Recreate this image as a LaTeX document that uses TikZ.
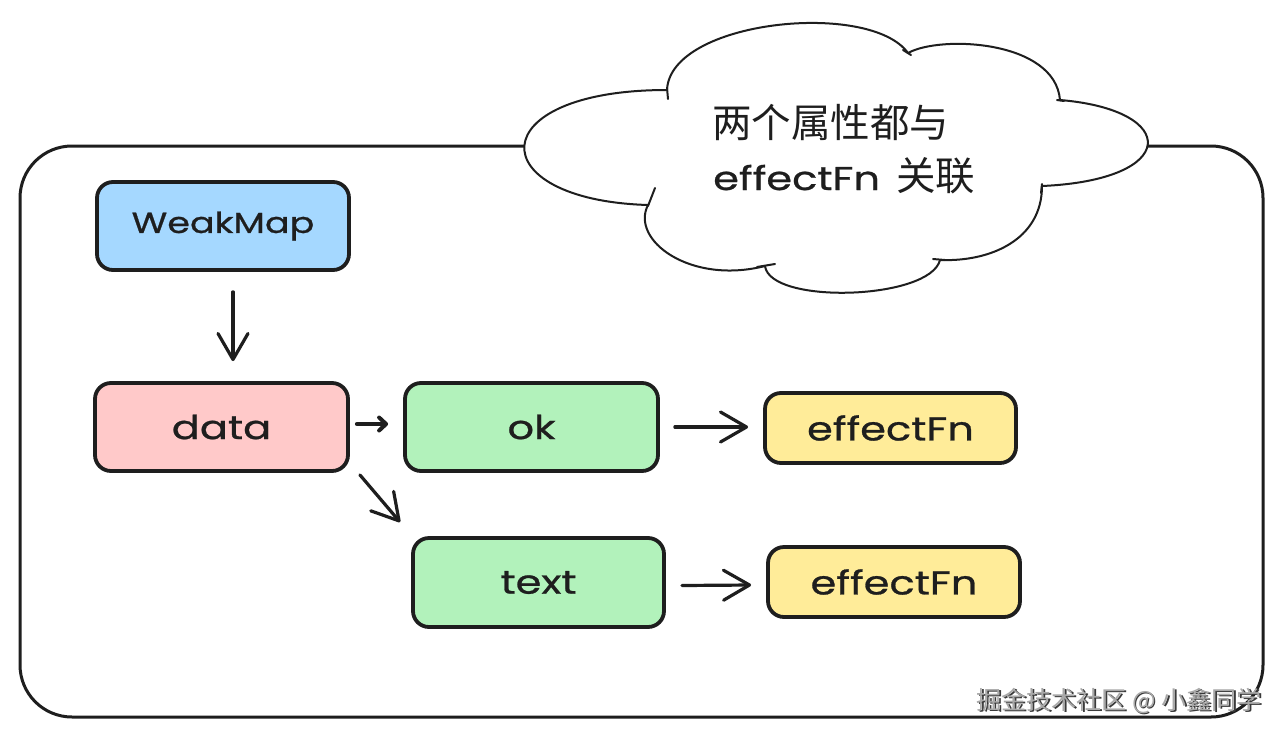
\documentclass[tikz,border=0pt]{standalone}
\usepackage{fontspec}
\newfontfamily\hand{Poppins}[FakeStretch=1.26,FakeBold=0.8]
\newfontfamily\cjk{Noto Sans CJK SC}
\usetikzlibrary{arrows.meta}
\definecolor{ink}{HTML}{1E1E1E}
\definecolor{cblue}{HTML}{A5D8FF}
\definecolor{cpink}{HTML}{FFC9C9}
\definecolor{cgreen}{HTML}{B2F2BB}
\definecolor{cyellow}{HTML}{FFEC99}
\definecolor{wmgray}{HTML}{A8A8A8}
\definecolor{wmshadow}{HTML}{3A3A3A}
\begin{document}
\begin{tikzpicture}[x=1pt,y=-1pt,
  box/.style={draw=ink, line width=3.8pt, rounded corners=16pt, text=ink,
    font=\hand\fontsize{33}{38}\selectfont, inner sep=0pt},
  arr/.style={draw=ink, line width=3.2pt, line cap=round,
    -{Straight Barb[length=26pt,width=30pt,line width=3.2pt,round]}},
  smallarr/.style={draw=ink, line width=4pt, line cap=round,
    -{Straight Barb[length=7pt,width=13pt,line width=4pt,round]}},
  cloudtext/.style={text=ink, inner sep=0pt}]
\useasboundingbox (0,0) rectangle (1283,737);
\fill[white] (0,0) rectangle (1283,737);

% outer frame
\draw[ink, line width=3pt, rounded corners=52pt] (20,146) rectangle (1263,717);

% cloud
\filldraw[fill=white, draw=ink, line width=2pt, line join=round]
  (667,90) .. controls (670,20) and (870,0) .. (908,53)
  .. controls (940,35) and (1055,40) .. (1060,100)
  .. controls (1180,110) and (1180,180) .. (1042,186)
  .. controls (1042,240) and (990,262) .. (940,260)
  .. controls (930,300) and (770,305) .. (765,266)
  .. controls (690,285) and (630,240) .. (648,205)
  .. controls (480,200) and (480,90) .. (667,90) -- cycle;
\draw[ink, line width=2pt, line cap=round] (667,88) -- (668,99);
\draw[ink, line width=2pt, line cap=round] (903,50) -- (911,55);
\draw[ink, line width=2pt, line cap=round] (1057,100) -- (1064,101);
\draw[ink, line width=2pt, line cap=round] (1042,184) -- (1041,193);
\draw[ink, line width=2pt, line cap=round] (945,260) -- (933,259);
\draw[ink, line width=2pt, line cap=round] (775,264) -- (757,267);
\draw[ink, line width=2pt, line cap=round] (655,188) -- (648,206);

\node[cloudtext, anchor=base west, font=\cjk\fontsize{39.5}{44}\selectfont] (cl1) at (712,137) {两个属性都与};
\node[cloudtext, anchor=base west] (cl2) at (713,190)
  {{\hand\fontsize{33}{38}\selectfont effectFn}\hspace{16pt}{\cjk\fontsize{39.5}{44}\selectfont 关联}};

% boxes
\node[box, fill=cblue, minimum width=252pt, minimum height=88pt, font=\hand\fontsize{29}{34}\selectfont] (wm) at (223,226) {WeakMap};
\node[box, fill=cpink, minimum width=253pt, minimum height=88pt] (data) at (221.5,427) {data};
\node[box, fill=cgreen, minimum width=253pt, minimum height=88pt] (ok) at (531.5,427) {ok};
\node[box, fill=cyellow, minimum width=251pt, minimum height=70pt] (ef1) at (890.5,428) {effectFn};
\node[box, fill=cgreen, minimum width=251pt, minimum height=89pt] (txt) at (538.5,582.5) {text};
\node[box, fill=cyellow, minimum width=252pt, minimum height=70pt] (ef2) at (894,582) {effectFn};

% connectors
\draw[arr] ([xshift=10pt,yshift=-20pt]wm.south) -- ([xshift=11.5pt,yshift=20pt]data.north);
\draw[smallarr] ([shift={(7pt,3pt)}]data.east) -- ([shift={(-15pt,3pt)}]ok.west);
\draw[arr] ([shift={(10pt,-2pt)}]data.south east) -- ([shift={(-11pt,14pt)}]txt.north west);
\draw[arr] ([xshift=15pt]ok.east) -- ([xshift=-15pt,yshift=1pt]ef1.west);
\draw[arr] ([xshift=16pt,yshift=-3pt]txt.east) -- ([xshift=-15pt,yshift=-3pt]ef2.west);

% watermark
\node[anchor=east, text=wmshadow, inner sep=0pt, font=\cjk\fontsize{25}{28}\selectfont] (wmark shadow) at (1263.2,702.2) {掘金技术社区 @ 小鑫同学};
\node[anchor=east, text=wmgray, inner sep=0pt, font=\cjk\fontsize{25}{28}\selectfont] (wmark) at (1262,701) {掘金技术社区 @ 小鑫同学};
\end{tikzpicture}
\end{document}
